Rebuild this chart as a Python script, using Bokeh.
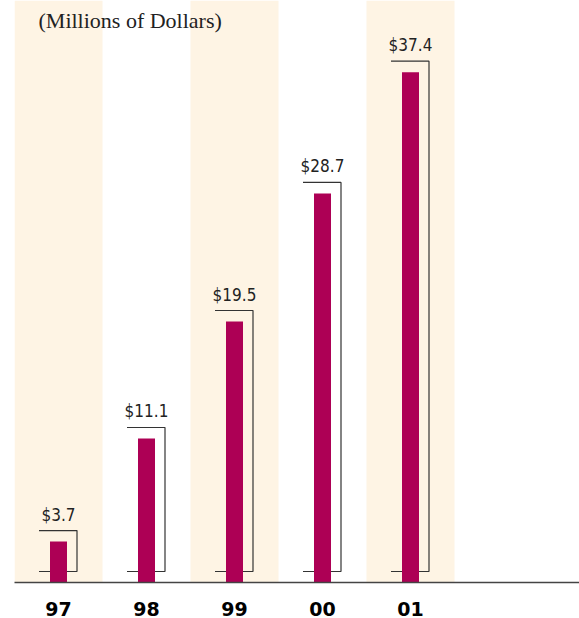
from bokeh.plotting import figure
from bokeh.models import ColumnDataSource, Label, Range1d, FixedTicker
from bokeh.core.properties import value
from bokeh.embed import file_html
from bokeh.resources import INLINE

# ---- data ----
years = ["97", "98", "99", "00", "01"]
revenue = [3.7, 11.1, 19.5, 28.7, 37.4]
value_labels = ["$3.7", "$11.1", "$19.5", "$28.7", "$37.4"]
shaded_years = ["97", "99", "01"]
title_text = "(Millions of Dollars)"

# ---- style / geometry ----
BAR_COLOR = "#AD0055"
BAND_COLOR = "#FEF4E4"
LINE_COLOR = "#333333"
Y0, Y1 = 0.76, 42.55
PX_PER_CAT = 88.0
BAR_W = 17 / PX_PER_CAT
BR_L = 19.5 / PX_PER_CAT
BR_R = 18.5 / PX_PER_CAT
BR_LIFT = 0.79
BR_BASE = Y0 + 0.79

xs_idx = list(range(len(years)))

p = figure(width=579, height=618, output_backend="svg", toolbar_location=None,
           x_range=Range1d(-0.5, -0.5 + 565 / PX_PER_CAT), y_range=Range1d(Y0, Y1),
           y_axis_location=None, min_border_left=14, min_border_right=0,
           min_border_top=0, min_border_bottom=35)
p.outline_line_color = None
p.xgrid.visible = False
p.ygrid.visible = False
p.background_fill_color = "white"
p.border_fill_color = "white"

# shaded bands
band_x = [years.index(y) for y in shaded_years]
p.vbar(x=band_x, width=1.0, bottom=Y0, top=Y1, fill_color=BAND_COLOR, line_color=None)

# brackets
br_xs, br_ys = [], []
for i, v in zip(xs_idx, revenue):
    top = v + BR_LIFT
    br_xs.append([i - BR_L, i + BR_R, i + BR_R, i - BR_L])
    br_ys.append([top, top, BR_BASE, BR_BASE])
p.multi_line(br_xs, br_ys, line_color=LINE_COLOR, line_width=1.2)

# bars
src = ColumnDataSource(dict(x=xs_idx, top=revenue, lab=value_labels,
                            ly=[v + BR_LIFT for v in revenue]))
p.vbar(x="x", width=BAR_W, bottom=0, top="top", source=src,
       fill_color=BAR_COLOR, line_color=None)

# value labels
p.text(x="x", y="ly", text="lab", source=src, text_align="center",
       text_baseline="alphabetic", y_offset=-16,
       text_font=value("DejaVu Sans Condensed"), text_font_size="17px",
       text_color="#222222")

# x axis with year labels
ax = p.xaxis[0]
ax.ticker = FixedTicker(ticks=xs_idx)
ax.major_label_overrides = {i: y for i, y in zip(xs_idx, years)}
ax.axis_line_color = "#444444"
ax.axis_line_width = 1.6
ax.major_tick_line_color = None
ax.minor_tick_line_color = None
ax.major_tick_out = 0
ax.major_tick_in = 0
ax.major_label_standoff = 19
ax.major_label_text_font = "DejaVu Sans"
ax.major_label_text_font_style = "bold"
ax.major_label_text_font_size = "19px"
ax.major_label_text_color = "#000000"

# title (screen units relative to the plot frame)
p.add_layout(Label(x=24, y=562, x_units="screen", y_units="screen", text=title_text,
                   text_baseline="middle", text_align="left",
                   text_font="Liberation Serif", text_font_size="22px",
                   text_color="#222222"))

open("out.html", "w").write(file_html(p, INLINE))
